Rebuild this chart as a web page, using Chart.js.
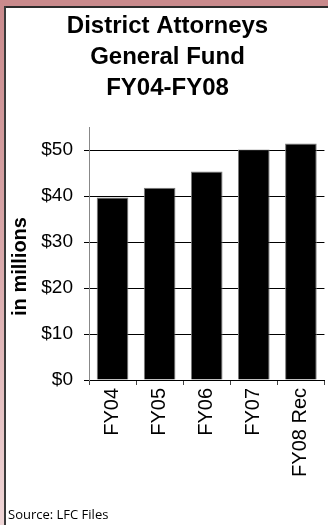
<!DOCTYPE html>
<html>
<head>
<meta charset="utf-8">
<script src="https://cdn.jsdelivr.net/npm/chart.js@4/dist/chart.umd.min.js"></script>
<style>
  body { margin: 0; background: #fff; }
  #wrap { position: relative; width: 328px; height: 525px; overflow: hidden; }
  #chart { position: absolute; left: 0; top: 0; }
  .band-top { position: absolute; left: 0; top: 0; width: 328px; height: 6px; background: #c98a8c; }
  .line-top { position: absolute; left: 4px; top: 6px; width: 324px; height: 2px; background: #2b2b2b; }
  .band-left { position: absolute; left: 0; top: 0; width: 4px; height: 525px;
    background: linear-gradient(#c98a8c, #d9a9ab 50%, #efd6d7); }
  .line-left { position: absolute; left: 4px; top: 6px; width: 2px; height: 519px; background: #3a3a3a; }
  #source { position: absolute; left: 8px; top: 505px; font: 13px "Open Sans", sans-serif; color: #000; }
</style>
</head>
<body>
<div id="wrap">
  <canvas id="chart" width="328" height="525"></canvas>
  <div class="band-top"></div>
  <div class="band-left"></div>
  <div class="line-top"></div>
  <div class="line-left"></div>
  <div id="source">Source: LFC Files</div>
</div>
<script>
// DATA
const categories = ["FY04", "FY05", "FY06", "FY07", "FY08 Rec"];
const generalFund = [39.7, 41.8, 45.3, 50.1, 51.4];
const yTickValues = [0, 10, 20, 30, 40, 50];
const titleLines = ["District Attorneys", "General Fund", "FY04-FY08"];

const ARIAL = 'Arial, "Liberation Sans", sans-serif';

// draws the rotated axis title a bit lower than the centre, like the original
const yTitlePlugin = {
  id: "yTitle",
  afterDraw(chart) {
    const c = chart.ctx;
    const area = chart.chartArea;
    c.save();
    c.translate(20, (area.top + area.bottom) / 2 + 13);
    c.rotate(-Math.PI / 2);
    c.font = "bold 20px " + ARIAL;
    c.fillStyle = "#000";
    c.textAlign = "center";
    c.textBaseline = "middle";
    c.fillText("in millions", 0, 0);
    c.restore();
  }
};

// CHART
const ctx = document.getElementById("chart").getContext("2d");
new Chart(ctx, {
  type: "bar",
  data: {
    labels: categories,
    datasets: [{
      data: generalFund,
      backgroundColor: "#000",
      borderColor: "#7a7a7a",
      borderWidth: 1,
      barPercentage: 0.672,
      categoryPercentage: 1
    }]
  },
  plugins: [yTitlePlugin],
  options: {
    responsive: false,
    animation: false,
    layout: { padding: { left: 8, right: 1, top: 0, bottom: 0 } },
    plugins: {
      legend: { display: false },
      tooltip: { enabled: false },
      title: {
        display: true,
        text: titleLines,
        color: "#000",
        font: { family: ARIAL, size: 24, weight: "bold", lineHeight: 31 / 24 },
        padding: { top: 11, bottom: 23 }
      }
    },
    scales: {
      x: {
        offset: true,
        grid: { display: true, drawOnChartArea: false, drawTicks: true, tickLength: 5, color: "#444", offset: true },
        border: { display: true, color: "#000", width: 1 },
        ticks: {
          color: "#000",
          font: { family: ARIAL, size: 20 },
          minRotation: 90,
          maxRotation: 90,
          autoSkip: false,
          padding: 3
        },
        afterFit: (scale) => { scale.height = 145; }
      },
      y: {
        min: 0,
        max: 55,
        grid: { color: "#000", lineWidth: 1, drawTicks: true, tickLength: 5 },
        border: { display: true, color: "#888", width: 1 },
        ticks: {
          stepSize: 10,
          color: "#000",
          padding: 11,
          font: { family: ARIAL, size: 19 },
          callback: (v) => "$" + v
        },
        afterBuildTicks: (scale) => {
          scale.ticks = yTickValues.map(v => ({ value: v }));
        },
        afterFit: (scale) => { scale.width = 81; }
      }
    }
  }
});
</script>
</body>
</html>
